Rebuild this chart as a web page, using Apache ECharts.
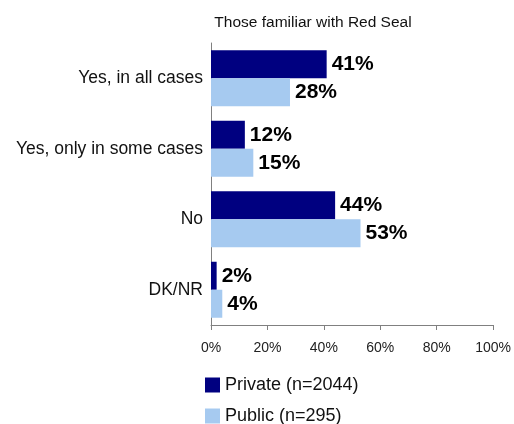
<!DOCTYPE html>
<html>
<head>
<meta charset="utf-8">
<script src="https://cdn.jsdelivr.net/npm/echarts@6/dist/echarts.min.js"></script>
<style>
  html, body { margin: 0; padding: 0; background: #ffffff; }
  #chart { width: 514px; height: 424px; }
</style>
</head>
<body>
<div id="chart"></div>
<script>
// Survey answers, top to bottom
const categories = ['Yes, in all cases', 'Yes, only in some cases', 'No', 'DK/NR'];
const privateValues = [41, 12, 44, 2];
const publicValues = [28, 15, 53, 4];
const seriesNames = ['Private (n=2044)', 'Public (n=295)'];
const titleText = 'Those familiar with Red Seal';

const FONT = '"Liberation Sans", Arial, sans-serif';

const chart = echarts.init(document.getElementById('chart'), null, { renderer: 'canvas' });

const valueLabel = {
  show: true,
  position: 'right',
  distance: 5,
  formatter: '{c}%',
  fontFamily: FONT,
  fontWeight: 'bold',
  fontSize: 21,
  color: '#000000'
};

chart.setOption({
  animation: false,
  backgroundColor: '#ffffff',
  title: {
    text: titleText,
    left: 308,
    top: 10,
    textAlign: 'center',
    textStyle: { fontFamily: FONT, fontWeight: 'normal', fontSize: 15.5, color: '#111111' }
  },
  grid: { left: 211, right: 19, top: 43, bottom: 99, containLabel: false },
  legend: {
    orient: 'vertical',
    left: 205,
    top: 376,
    height: 60,
    padding: 0,
    itemWidth: 15,
    itemHeight: 15,
    itemGap: 13,
    itemStyle: { borderWidth: 0 },
    icon: 'rect',
    textStyle: { fontFamily: FONT, fontSize: 18, color: '#111111' },
    data: seriesNames
  },
  xAxis: {
    type: 'value',
    min: 0,
    max: 100,
    interval: 20,
    axisLine: { show: true, lineStyle: { color: '#808080', width: 1 } },
    axisTick: { show: true, length: 5, lineStyle: { color: '#808080' } },
    splitLine: { show: false },
    axisLabel: {
      formatter: '{value}%',
      margin: 16,
      fontFamily: FONT,
      fontSize: 14,
      color: '#222222'
    }
  },
  yAxis: {
    type: 'category',
    data: categories,
    inverse: true,
    axisLine: { show: true, lineStyle: { color: '#808080', width: 1 } },
    axisTick: { show: false },
    axisLabel: { margin: 8, fontFamily: FONT, fontSize: 17.5, color: '#111111' }
  },
  series: [
    {
      name: seriesNames[0],
      type: 'bar',
      data: privateValues,
      barWidth: 28,
      barGap: '0%',
      itemStyle: { color: '#000080' },
      label: valueLabel
    },
    {
      name: seriesNames[1],
      type: 'bar',
      data: publicValues,
      barWidth: 28,
      barGap: '0%',
      itemStyle: { color: '#A6CAF0' },
      label: valueLabel
    }
  ]
});
</script>
</body>
</html>
